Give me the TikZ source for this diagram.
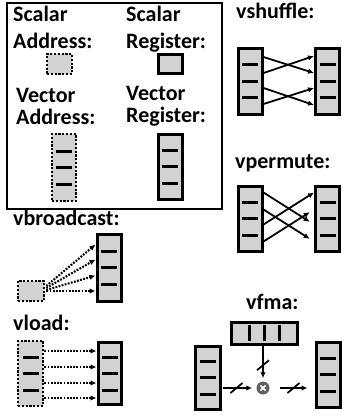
\documentclass[tikz,border=0pt]{standalone}
\usepackage{fontspec}
\setmainfont{Carlito}
\usetikzlibrary{arrows.meta,calc}
\definecolor{regfill}{RGB}{210,210,210}
\definecolor{mulfill}{RGB}{95,95,95}
\tikzset{
  lab/.style={font=\fontsize{22}{26}\selectfont\bfseries, inner sep=0pt, anchor=base west},
  reg/.style={draw, fill=regfill, line width=3pt, inner sep=0pt},
  addr/.style={draw, fill=regfill, line width=2.6pt, dash pattern=on 2.2pt off 1.6pt, inner sep=0pt},
  dashline/.style={line width=3pt},
  arr/.style={line width=1.8pt, -{Latex[length=6pt,width=5.5pt]}},
  darr/.style={line width=2.1pt, dash pattern=on 1.8pt off 1.4pt, -{Latex[length=6pt,width=5.5pt]}},
  slash/.style={line width=1.7pt},
  frame/.style={line width=2.2pt},
}
\newcommand\regdashes[1]{%
  \foreach \d in {-16.5,0,16.5}
    \draw[dashline] ($(#1)+(-8,\d)$) -- ($(#1)+(8,\d)$);}
\newcommand\slashat[1]{%
  \draw[slash] ($(#1)+(-6,5)$) -- ($(#1)+(6,-5)$);}
\begin{document}
\begin{tikzpicture}[x=1pt,y=-1pt]
\useasboundingbox (0,0) rectangle (341,415);

% ---------- legend ----------
\draw[frame] (7,3) rectangle (222,209);
\node[lab] (tsa1) at (13,21) {Scalar};
\node[lab] (tsa2) at (13,48) {Address:};
\node[lab] (tsr1) at (126,21) {Scalar};
\node[lab] (tsr2) at (126,48) {Register:};
\node[lab] (tva1) at (16,102) {Vector};
\node[lab] (tva2) at (16,124) {Address:};
\node[lab] (tvr1) at (126,100) {Vector};
\node[lab] (tvr2) at (126,122) {Register:};

\node[addr, minimum width=25pt, minimum height=20pt] (lsa) at (59.5,64) {};
\node[reg, minimum width=24pt, minimum height=19pt] (lsr) at (170,63.5) {};
\node[addr, minimum width=24pt, minimum height=67pt] (lva) at (64,167.5) {};
\regdashes{lva}
\node[reg, minimum width=24pt, minimum height=65pt] (lvr) at (170,166.5) {};
\regdashes{lvr}

% ---------- vshuffle ----------
\node[lab] (tshuf) at (236,19) {vshuffle:};
\node[reg, minimum width=24pt, minimum height=66pt] (shL) at (250,81) {};
\regdashes{shL}
\node[reg, minimum width=24pt, minimum height=66pt] (shR) at (327.5,81) {};
\regdashes{shR}
\draw[arr] ($(shL.east)+(0,-24)$) -- ($(shR.west)+(0,-8)$);
\draw[arr] ($(shL.east)+(0,-8)$) -- ($(shR.west)+(0,-25)$);
\draw[arr] ($(shL.east)+(0,7)$) -- ($(shR.west)+(0,24)$);
\draw[arr] ($(shL.east)+(0,23)$) -- ($(shR.west)+(0,7)$);

% ---------- vpermute ----------
\node[lab] (tperm) at (235,168) {vpermute:};
\node[reg, minimum width=24pt, minimum height=65pt] (pmL) at (250,218.5) {};
\regdashes{pmL}
\node[reg, minimum width=24pt, minimum height=65pt] (pmR) at (327.5,218.5) {};
\regdashes{pmR}
\draw[arr, shorten >=5pt] ($(pmL.east)+(0,-26)$) -- ($(pmR.west)+(0,6)$);
\draw[arr, shorten >=5pt] ($(pmL.east)+(0,-9)$) -- ($(pmR.west)+(0,23)$);
\draw[arr] ($(pmL.east)+(0,6)$) -- ($(pmR.west)+(0,-26)$);
\draw[arr, shorten >=5pt] ($(pmL.east)+(0,23)$) -- ($(pmR.west)+(0,-9)$);

% ---------- vbroadcast ----------
\node[lab] (tbc) at (13,225) {vbroadcast:};
\node[reg, minimum width=24pt, minimum height=67pt] (bcR) at (109,267.5) {};
\regdashes{bcR}
\node[addr, minimum width=26pt, minimum height=20pt] (bcS) at (31,291) {};
\draw[darr] ($(bcS.east)+(1,-5)$) -- ($(bcR.west)+(0,-23)$);
\draw[darr] ($(bcS.east)+(1,-3)$) -- ($(bcR.west)+(0,-8)$);
\draw[darr] ($(bcS.east)+(1,-1)$) -- ($(bcR.west)+(0,8)$);
\draw[darr] ($(bcS.east)+(1,0)$) -- ($(bcR.west)+(0,23.5)$);

% ---------- vload ----------
\node[lab] (tld) at (13,330) {vload:};
\node[addr, minimum width=25pt, minimum height=65pt] (ldA) at (30.5,373.5) {};
\regdashes{ldA}
\node[reg, minimum width=23pt, minimum height=62pt] (ldR) at (109.5,373.5) {};
\regdashes{ldR}
\foreach \o in {-22.5,-6.5,9.5,24.5}
  \draw[darr] ($(ldA.east)+(0,\o)$) -- ($(ldR.west)+(0,\o)$);

% ---------- vfma ----------
\node[lab] (tfma) at (246,309) {vfma:};
\node[reg, minimum width=66pt, minimum height=22pt] (fmT) at (264,333) {};
\foreach \d in {-14.5,0.5,15.5}
  \draw[dashline] ($(fmT)+(\d,-8)$) -- ($(fmT)+(\d,8)$);
\node[reg, minimum width=25pt, minimum height=63pt] (fmL) at (207.5,377.5) {};
\regdashes{fmL}
\node[reg, minimum width=24pt, minimum height=65pt] (fmR) at (328,374.5) {};
\regdashes{fmR}
\node[circle, fill=mulfill, minimum size=13pt, inner sep=0pt] (mul) at (263,388) {};
\draw[white, line width=1.6pt] ($(mul)+(-2.6,-2.6)$) -- ($(mul)+(2.6,2.6)$)
                               ($(mul)+(-2.6,2.6)$) -- ($(mul)+(2.6,-2.6)$);
\draw[arr, shorten >=3pt] (mul.north |- fmT.south) -- (mul.north);
\draw[arr, shorten <=1pt, shorten >=4pt] (mul.west -| fmL.east) -- (mul.west);
\draw[arr, shorten <=10pt, shorten >=7pt] (mul.east) -- (mul.east -| fmR.west);
\coordinate (s1) at ($(mul.north |- fmT.south)!0.55!(mul.north)$);
\coordinate (s2) at (236.5,388);
\coordinate (s3) at (293.5,388);
\slashat{s1}
\slashat{s2}
\slashat{s3}
\end{tikzpicture}
\end{document}
